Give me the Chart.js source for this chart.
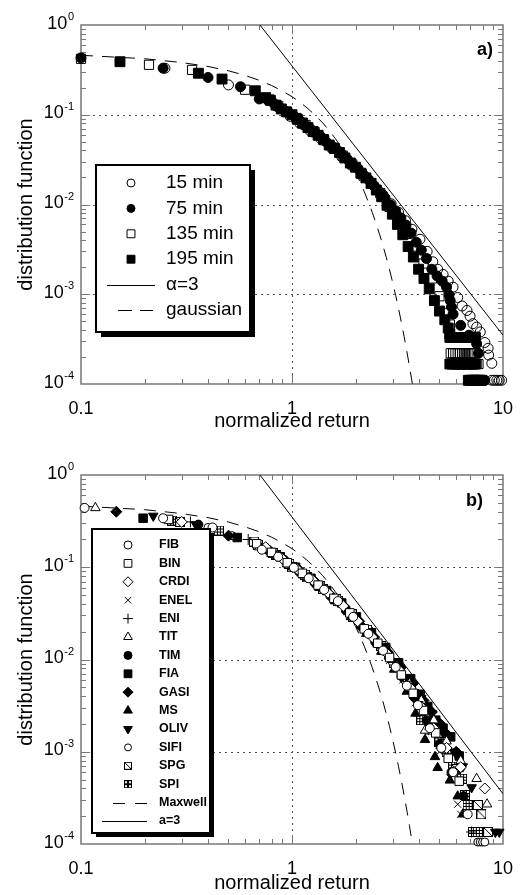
<!DOCTYPE html>
<html><head><meta charset="utf-8">
<script src="https://cdn.jsdelivr.net/npm/chart.js@4/dist/chart.umd.min.js"></script>
<style>
html,body{margin:0;padding:0;background:#fff;width:526px;height:895px;overflow:hidden}
canvas{position:absolute;left:0}
#ca{top:0}
#cb{top:447px}
</style></head><body>
<canvas id="ca" width="526" height="447"></canvas>
<canvas id="cb" width="526" height="448"></canvas>
<script>
const FF = '"Liberation Sans", Arial, Helvetica, sans-serif';

// ---------- tick labels ----------
const xTickLabels = ['0.1', '1', '10'];
const yTickExponents = ['0', '-1', '-2', '-3', '-4'];

// ---------- reference curves ----------
const alphaLine = [[0.705, 1], [10, 0.00035]];
const gaussCurve = [[0.1,0.46],[0.2,0.421],[0.3,0.382],[0.4,0.345],[0.5,0.309],[0.6,0.274],[0.7,0.242],[0.8,0.212],[0.9,0.184],[1.0,0.159],[1.1,0.136],[1.2,0.115],[1.3,0.0968],[1.4,0.0808],[1.5,0.0668],[1.6,0.0548],[1.7,0.0446],[1.8,0.0359],[1.9,0.0287],[2.0,0.0228],[2.1,0.0179],[2.2,0.0139],[2.3,0.0107],[2.4,0.0082],[2.5,0.0062],[2.6,0.00466],[2.7,0.00347],[2.8,0.00256],[2.9,0.00187],[3.0,0.00135],[3.1,0.00097],[3.2,0.000687],[3.3,0.000483],[3.4,0.000337],[3.5,0.000233],[3.6,0.000159],[3.72,0.0001]];

// ---------- panel a ----------
const a15min = [[0.25,0.33],[0.5,0.215],[0.77,0.145],[0.87,0.118],[0.98,0.096],[1.09,0.08],[1.22,0.066],[1.37,0.054],[1.53,0.043],[1.72,0.034],[1.93,0.027],[2.17,0.021],[2.43,0.0163],[2.7,0.0128],[2.95,0.0102],[3.2,0.0082],[3.45,0.0066],[3.7,0.0053],[4.04,0.0041],[4.37,0.003],[4.65,0.0023],[4.9,0.0019],[5.2,0.00166],[5.5,0.0014],[5.8,0.0012],[6.1,0.00092],[6.4,0.00074],[6.75,0.00066],[6.98,0.00057],[7.2,0.00047],[7.5,0.00043],[7.8,0.00038],[8.2,0.00029],[8.5,0.00025],[8.55,0.00021],[8.85,0.00017],[8.85,0.00011],[9.1,0.00011],[9.35,0.00011],[9.6,0.00011],[9.85,0.00011]];
const a75min = [[0.1,0.43],[0.245,0.33],[0.4,0.26],[0.57,0.205],[0.7,0.15],[0.77,0.148],[0.82,0.134],[0.87,0.122],[0.92,0.112],[0.97,0.104],[1.03,0.095],[1.09,0.086],[1.15,0.078],[1.22,0.07],[1.29,0.063],[1.37,0.057],[1.45,0.05],[1.54,0.045],[1.63,0.041],[1.73,0.036],[1.83,0.032],[1.94,0.028],[2.06,0.025],[2.18,0.0215],[2.31,0.0188],[2.45,0.0162],[2.6,0.0138],[2.76,0.0118],[2.93,0.0099],[3.1,0.0085],[3.28,0.0071],[3.47,0.0059],[3.67,0.0048],[3.88,0.0038],[4.1,0.0031],[4.34,0.0025],[4.6,0.0019],[4.87,0.0016],[5.15,0.0014],[5.4,0.0012],[5.55,0.00098],[5.62,0.00085],[5.7,0.00072],[5.8,0.0006],[6.3,0.00045],[6.9,0.00035],[7.5,0.00028],[7.65,0.00022],[8.0,0.00011],[8.2,0.00011]];
const a135min = [[0.1,0.42],[0.21,0.36],[0.336,0.316],[0.6,0.19],[0.78,0.148],[0.86,0.125],[0.95,0.107],[1.05,0.092],[1.16,0.077],[1.28,0.064],[1.42,0.052],[1.57,0.043],[1.74,0.035],[1.93,0.028],[2.14,0.022],[2.37,0.0173],[2.62,0.0134],[2.9,0.0094],[3.2,0.0068],[3.5,0.0047],[3.8,0.0034],[4.2,0.0022],[4.6,0.0015],[5.0,0.00095],[5.4,0.00062],[5.6,0.00046],[5.65,0.00022],[5.8,0.00022],[5.95,0.00022],[6.1,0.00022],[6.25,0.00022],[6.4,0.00022],[6.55,0.00022],[6.7,0.00022],[6.85,0.00022],[7.0,0.00022],[7.15,0.00022],[7.3,0.00022],[7.5,0.000167],[7.65,0.000167]];
const a195min = [[0.153,0.39],[0.36,0.29],[0.466,0.25],[0.67,0.185],[0.75,0.155],[0.79,0.145],[0.84,0.128],[0.89,0.116],[0.94,0.108],[1.0,0.1],[1.06,0.089],[1.12,0.081],[1.19,0.072],[1.26,0.065],[1.33,0.059],[1.41,0.053],[1.5,0.046],[1.59,0.042],[1.68,0.038],[1.78,0.033],[1.89,0.029],[2.0,0.026],[2.12,0.0223],[2.24,0.0198],[2.37,0.0172],[2.51,0.0145],[2.66,0.0122],[2.82,0.0098],[2.99,0.0078],[3.16,0.006],[3.35,0.0046],[3.55,0.0034],[3.76,0.0026],[3.98,0.0019],[4.22,0.0015],[4.47,0.00115],[4.73,0.00085],[5.0,0.00065],[5.3,0.00052],[5.5,0.00042],[5.6,0.00036],[5.6,0.00033],[5.75,0.00033],[5.9,0.00033],[6.05,0.00033],[6.2,0.00033],[6.35,0.00033],[6.5,0.00033],[6.65,0.00033],[6.8,0.00033],[6.95,0.00033],[7.1,0.00033],[7.25,0.00033],[7.4,0.00033],[5.6,0.000167],[5.75,0.000167],[5.9,0.000167],[6.05,0.000167],[6.2,0.000167],[6.35,0.000167],[6.5,0.000167],[6.65,0.000167],[6.8,0.000167],[6.95,0.000167],[7.1,0.000167],[7.25,0.000167],[7.4,0.000167],[6.85,0.00011],[7.0,0.00011],[7.15,0.00011],[7.3,0.00011],[7.45,0.00011],[7.6,0.00011],[7.75,0.00011],[7.9,0.00011]];
const legendA = ['15 min', '75 min', '135 min', '195 min', 'α=3', 'gaussian'];

// ---------- panel b ----------
const bFIB = [[0.104,0.44],[0.245,0.34],[0.42,0.27],[0.72,0.155],[0.86,0.13],[1.02,0.099],[1.2,0.076],[1.42,0.057],[1.65,0.043],[1.95,0.029],[2.3,0.019],[2.7,0.0125],[3.1,0.0083],[3.5,0.0052],[3.95,0.0032],[4.5,0.0018],[5.1,0.0011],[5.8,0.0006],[6.8,0.00021]];
const bBIN = [[0.26,0.33],[0.68,0.18],[0.8,0.145],[0.95,0.112],[1.12,0.086],[1.33,0.064],[1.58,0.046],[1.88,0.032],[2.2,0.0215],[2.55,0.015],[2.9,0.0105],[3.3,0.0068],[3.75,0.0043],[4.2,0.0028],[4.8,0.0016],[5.5,0.00085],[6.2,0.00048]];
const bCRDI = [[0.3,0.31],[0.75,0.165],[0.9,0.124],[1.06,0.095],[1.25,0.073],[1.48,0.053],[1.75,0.038],[2.05,0.026],[2.4,0.0175],[2.8,0.0118],[3.2,0.0078],[3.65,0.0049],[4.15,0.003],[4.7,0.0018],[5.4,0.0011],[6.3,0.00068],[8.2,0.0004]];
const bENEL = [[0.78,0.15],[0.93,0.115],[1.1,0.087],[1.3,0.065],[1.55,0.047],[1.83,0.033],[2.15,0.022],[2.5,0.015],[2.9,0.0098],[3.35,0.006],[3.85,0.0034],[4.4,0.0019],[5.0,0.001],[5.6,0.00052],[6.1,0.00027],[6.3,0.00021]];
const bENI = [[0.33,0.31],[0.62,0.2],[0.82,0.14],[0.98,0.106],[1.16,0.081],[1.37,0.061],[1.62,0.044],[1.92,0.03],[2.25,0.02],[2.62,0.0135],[3.0,0.0093],[3.45,0.0058],[3.95,0.0035],[4.5,0.002],[5.2,0.0011],[6.0,0.0006],[7.1,0.000135]];
const bTIT = [[0.117,0.44],[0.7,0.165],[0.85,0.133],[1.01,0.1],[1.19,0.077],[1.41,0.058],[1.68,0.041],[1.98,0.028],[2.32,0.019],[2.72,0.0125],[3.15,0.0085],[3.6,0.0055],[4.1,0.0036],[4.27,0.0017],[4.7,0.0022],[5.4,0.0013],[6.3,0.0008],[7.5,0.00051],[8.4,0.00027]];
const bTIM = [[0.36,0.29],[0.77,0.155],[0.92,0.12],[1.08,0.09],[1.28,0.068],[1.52,0.049],[1.8,0.034],[2.12,0.023],[2.48,0.0155],[2.88,0.0105],[3.3,0.0066],[3.8,0.0039],[4.35,0.0022],[5.0,0.0012],[5.7,0.0006],[6.5,0.00033]];
const bFIA = [[0.197,0.34],[0.55,0.21],[0.74,0.16],[0.88,0.13],[1.04,0.1],[1.23,0.076],[1.46,0.056],[1.72,0.041],[2.02,0.029],[2.38,0.0195],[2.78,0.0135],[3.2,0.0092],[3.65,0.0062],[4.05,0.0042],[4.4,0.0031],[4.8,0.0022],[5.2,0.0018],[5.65,0.00145],[6.2,0.0009]];
const bGASI = [[0.147,0.4],[0.5,0.22],[0.76,0.158],[0.9,0.125],[1.07,0.096],[1.27,0.072],[1.5,0.052],[1.78,0.037],[2.08,0.026],[2.45,0.0175],[2.85,0.012],[3.28,0.0082],[3.75,0.0055],[4.2,0.0036],[4.6,0.0027],[5.05,0.002],[5.5,0.0015],[6.0,0.001]];
const bMS = [[0.8,0.14],[0.95,0.108],[1.13,0.082],[1.35,0.06],[1.6,0.043],[1.9,0.029],[2.25,0.019],[2.65,0.0122],[3.05,0.0078],[3.5,0.0045],[3.85,0.0026],[4.27,0.00135],[4.76,0.00088],[4.9,0.00067],[5.6,0.00049],[6.1,0.00033],[6.45,0.00021]];
const bOLIV = [[0.22,0.36],[0.35,0.29],[0.71,0.16],[0.83,0.138],[0.99,0.104],[1.18,0.079],[1.4,0.059],[1.66,0.043],[1.96,0.03],[2.3,0.02],[2.7,0.0135],[3.12,0.009],[3.6,0.0058],[4.1,0.0038],[4.6,0.0026],[5.2,0.0016],[5.9,0.001],[6.45,0.00069],[7.1,0.00041],[9.2,0.000135],[9.6,0.000135]];
const bSIFI = [[0.4,0.27],[0.52,0.22],[0.79,0.145],[0.94,0.113],[1.12,0.085],[1.33,0.064],[1.58,0.046],[1.87,0.032],[2.2,0.0215],[2.57,0.0145],[2.98,0.0095],[3.42,0.006],[3.9,0.0036],[4.45,0.0021],[5.1,0.0012],[5.9,0.00062],[7.6,0.000105],[7.8,0.000105],[8.0,0.000105],[8.2,0.000105]];
const bSPG = [[0.295,0.31],[0.66,0.19],[0.81,0.143],[0.97,0.109],[1.15,0.083],[1.36,0.062],[1.62,0.045],[1.92,0.031],[2.27,0.021],[2.65,0.014],[3.05,0.0092],[3.5,0.0058],[4.0,0.0035],[4.55,0.0021],[5.2,0.0012],[6.0,0.00065],[7.6,0.000265],[7.9,0.00021],[8.5,0.000135]];
const bSPI = [[0.27,0.32],[0.45,0.25],[0.69,0.175],[0.84,0.136],[1.0,0.1],[1.18,0.078],[1.4,0.058],[1.65,0.043],[1.95,0.029],[2.3,0.02],[2.7,0.0128],[3.1,0.0088],[3.55,0.0058],[3.8,0.0042],[4.1,0.0034],[4.1,0.0022],[4.5,0.0017],[5.0,0.00126],[5.4,0.001],[5.8,0.00069],[6.4,0.00051],[6.6,0.00034],[6.8,0.000265],[7.2,0.000135],[7.6,0.000135]];
const legendB = ['FIB','BIN','CRDI','ENEL','ENI','TIT','TIM','FIA','GASI','MS','OLIV','SIFI','SPG','SPI','Maxwell','a=3'];

// ---------- marker icons ----------
function icon(kind, size) {
  const c = document.createElement('canvas');
  c.width = size; c.height = size;
  const g = c.getContext('2d');
  g.fillStyle = '#fff'; g.fillRect(0, 0, size, size);
  g.strokeStyle = '#000'; g.lineWidth = 1;
  g.strokeRect(0.5, 0.5, size - 1, size - 1);
  g.beginPath();
  if (kind === 'diag') { g.moveTo(0.5, 0.5); g.lineTo(size - 0.5, size - 0.5); }
  else {
    const a = Math.round(size / 3) + 0.5, b = Math.round(2 * size / 3) - 0.5;
    g.moveTo(a, 0); g.lineTo(a, size); g.moveTo(b, 0); g.lineTo(b, size);
    g.moveTo(0, a); g.lineTo(size, a); g.moveTo(0, b); g.lineTo(size, b);
  }
  g.stroke();
  return c;
}
const spgIcon = icon('diag', 10), spiIcon = icon('grid', 10);
const spgIconL = icon('diag', 8), spiIconL = icon('grid', 8);

const T = 'rgba(0,0,0,0)';
function mk(style, r, fill, rot) { return {style, r, fill, stroke: '#000', rot: rot || 0}; }

const markA = [mk('circle',5,T), mk('circle',5,'#000'), mk('rect',6.5,T), mk('rect',7,'#000')];
const markAL = [mk('circle',4,T), mk('circle',4,'#000'), mk('rect',5.6,T), mk('rect',5.6,'#000')];
const seriesA = [a15min, a75min, a135min, a195min];
const orderA = [5, 3, 4, 2];

const markB = [mk('circle',4.5,'#fff'), mk('rect',6,'#fff'), mk('rectRot',5.5,'#fff'), mk('crossRot',5,T),
  mk('cross',5.5,T), mk('triangle',5.5,'#fff'), mk('circle',4.5,'#000'), mk('rect',6,'#000'),
  mk('rectRot',5.5,'#000'), mk('triangle',5.5,'#000'), mk('triangle',5.5,'#000',180), mk('circle',4,'#fff'),
  mk(spgIcon,5,'#fff'), mk(spiIcon,5,'#fff')];
const markBL = [mk('circle',4,'#fff'), mk('rect',5.5,'#fff'), mk('rectRot',5,'#fff'), mk('crossRot',4.5,T),
  mk('cross',5,T), mk('triangle',5,'#fff'), mk('circle',4,'#000'), mk('rect',5.5,'#000'),
  mk('rectRot',5,'#000'), mk('triangle',5,'#000'), mk('triangle',5,'#000',180), mk('circle',3.5,'#fff'),
  mk(spgIconL,5,'#fff'), mk(spiIconL,5,'#fff')];
const seriesB = [bFIB,bBIN,bCRDI,bENEL,bENI,bTIT,bTIM,bFIA,bGASI,bMS,bOLIV,bSIFI,bSPG,bSPI];

function pts(arr) { return arr.map(([x, y]) => ({x, y})); }

function markerDataset(label, arr, m, order) {
  return {label, data: pts(arr), showLine: false, order, clip: false,
    pointStyle: m.style, pointRadius: m.r, pointHoverRadius: m.r, pointRotation: m.rot,
    pointBackgroundColor: m.fill, pointBorderColor: m.stroke, pointBorderWidth: 1};
}
function lineDataset(label, arr, dash) {
  return {label, data: pts(arr), showLine: true, order: 20, pointRadius: 0, pointHoverRadius: 0,
    borderColor: '#000', borderWidth: 1, borderDash: dash, fill: false, tension: 0};
}

function drawMarker(ctx, m, x, y) {
  ctx.save();
  ctx.fillStyle = m.fill; ctx.strokeStyle = m.stroke; ctx.lineWidth = 1;
  Chart.helpers.drawPoint(ctx, {pointStyle: m.style, radius: m.r, rotation: m.rot, borderWidth: 1}, x, y);
  ctx.restore();
}

// ---------- decoration plugin: grid, inward ticks, frame, y labels, legend ----------
const deco = {
  id: 'deco',
  beforeDatasetsDraw(chart, args, o) {
    const {ctx, chartArea: A, scales: {x, y}} = chart;
    ctx.save();
    ctx.strokeStyle = '#555'; ctx.lineWidth = 1; ctx.setLineDash([2, 4]);
    ctx.beginPath();
    [1].forEach(v => { const p = Math.round(x.getPixelForValue(v)) + 0.5; ctx.moveTo(p, A.top); ctx.lineTo(p, A.bottom); });
    [0.1, 0.01, 0.001].forEach(v => { const p = Math.round(y.getPixelForValue(v)) + 0.5; ctx.moveTo(A.left, p); ctx.lineTo(A.right, p); });
    ctx.stroke();
    ctx.setLineDash([]);
    ctx.strokeStyle = '#777'; ctx.lineWidth = 1;
    ctx.beginPath();
    for (let e = -1; e <= 0; e++) for (let k = 1; k <= 9; k++) {
      const v = k * Math.pow(10, e);
      if (v <= 0.1 + 1e-9) continue;
      const p = Math.round(x.getPixelForValue(v)) + 0.5, L = k === 1 ? 9 : 5;
      ctx.moveTo(p, A.bottom); ctx.lineTo(p, A.bottom - L);
      ctx.moveTo(p, A.top); ctx.lineTo(p, A.top + L);
    }
    for (let e = -4; e <= -1; e++) for (let k = 1; k <= 9; k++) {
      const v = k * Math.pow(10, e);
      if (v <= 1e-4 + 1e-12) continue;
      const p = Math.round(y.getPixelForValue(v)) + 0.5, L = k === 1 ? 9 : 5;
      ctx.moveTo(A.left, p); ctx.lineTo(A.left + L, p);
      ctx.moveTo(A.right, p); ctx.lineTo(A.right - L, p);
    }
    ctx.stroke();
    ctx.lineWidth = 1.5;
    ctx.strokeRect(A.left, A.top, A.right - A.left, A.bottom - A.top);
    ctx.restore();
  },
  afterDatasetsDraw(chart, args, o) {
    const {ctx, scales: {y}} = chart;
    ctx.save();
    ctx.fillStyle = '#000'; ctx.textAlign = 'left'; ctx.textBaseline = 'alphabetic';
    yTickExponents.forEach(ex => {
      const py = y.getPixelForValue(Math.pow(10, Number(ex)));
      ctx.font = '18px ' + FF; const bw = ctx.measureText('10').width;
      ctx.font = '11px ' + FF; const ew = ctx.measureText(ex).width;
      const right = 74;
      ctx.font = '18px ' + FF; ctx.fillText('10', right - ew - bw - 0.5, py + 3.5);
      ctx.font = '11px ' + FF; ctx.fillText(ex, right - ew, py - 5);
    });
    ctx.font = 'bold 18px ' + FF; ctx.textAlign = 'right';
    ctx.fillText(o.panel.text, o.panel.x, o.panel.y);
    const L = o.legend;
    ctx.fillStyle = '#000';
    ctx.fillRect(L.x0 + L.sh, L.y0 + L.sh, L.x1 - L.x0, L.y1 - L.y0);
    ctx.fillStyle = '#fff';
    ctx.fillRect(L.x0, L.y0, L.x1 - L.x0, L.y1 - L.y0);
    ctx.strokeStyle = '#000'; ctx.lineWidth = 2;
    ctx.strokeRect(L.x0, L.y0, L.x1 - L.x0, L.y1 - L.y0);
    ctx.font = L.font; ctx.textAlign = 'left'; ctx.textBaseline = 'middle';
    L.labels.forEach((lab, i) => {
      const yy = L.iy0 + L.dy * i;
      if (i < L.marks.length) drawMarker(ctx, L.marks[i], L.mx, yy);
      else {
        const seg = L.lines[i - L.marks.length];
        ctx.strokeStyle = '#000'; ctx.lineWidth = 1; ctx.beginPath();
        for (let s = 0; s < seg.length; s += 2) { ctx.moveTo(seg[s], Math.round(yy) + 0.5); ctx.lineTo(seg[s + 1], Math.round(yy) + 0.5); }
        ctx.stroke();
      }
      ctx.fillStyle = '#000';
      ctx.fillText(lab, L.tx, yy);
    });
    ctx.restore();
  }
};

function makeChart(id, cfg) {
  return new Chart(document.getElementById(id), {
    type: 'scatter',
    data: {datasets: cfg.datasets},
    plugins: [deco],
    options: {
      responsive: false, animation: false, events: [],
      layout: {padding: {top: cfg.top, right: 23, left: 0, bottom: 0}},
      plugins: {legend: {display: false}, tooltip: {enabled: false}, deco: cfg.deco},
      scales: {
        x: {type: 'logarithmic', min: 0.1, max: 10, position: 'bottom',
          grid: {display: false}, border: {display: false},
          ticks: {autoSkip: false, maxRotation: 0, minRotation: 0, padding: cfg.tickPad, color: '#000',
            font: {family: FF, size: 18},
            callback: (v) => { const l = Math.log10(v), r = Math.round(l); return Math.abs(l - r) < 1e-6 ? xTickLabels[r + 1] : ''; }},
          title: {display: true, text: 'normalized return', color: '#000', font: {family: FF, size: 20},
            padding: {top: 0, bottom: cfg.xTitlePad}},
          afterFit: (s) => { s.height = cfg.xh; }},
        y: {type: 'logarithmic', min: 0.0001, max: 1, position: 'left',
          grid: {display: false}, border: {display: false}, ticks: {display: false},
          title: {display: true, text: 'distribution function', color: '#000', font: {family: FF, size: 20},
            padding: {top: 14, bottom: 0}},
          afterFit: (s) => { s.width = 81; }}
      }
    }
  });
}

// panel a
const dsA = seriesA.map((s, i) => markerDataset(legendA[i], s, markA[i], orderA[i]));
dsA.push(lineDataset('α=3', alphaLine, []));
dsA.push(lineDataset('gaussian', gaussCurve, [12, 9]));
makeChart('ca', {
  datasets: dsA, top: 25, xh: 63, tickPad: 6, xTitlePad: 14,
  deco: {
    panel: {text: 'a)', x: 493, y: 55},
    legend: {x0: 96, y0: 165, x1: 250, y1: 332, sh: 5, font: '19px ' + FF,
      labels: legendA, marks: markAL, mx: 131, tx: 166, iy0: 183, dy: 25.4,
      lines: [[107, 155], [118, 132, 140, 153]]}
  }
});

// panel b
const dsB = seriesB.map((s, i) => markerDataset(legendB[i], s, markB[i], 2 + i));
dsB.push(lineDataset('Maxwell', gaussCurve, [12, 9]));
dsB.push(lineDataset('a=3', alphaLine, []));
makeChart('cb', {
  datasets: dsB, top: 28, xh: 51, tickPad: 6, xTitlePad: 0,
  deco: {
    panel: {text: 'b)', x: 483, y: 59},
    legend: {x0: 92, y0: 82, x1: 210, y1: 386, sh: 4, font: 'bold 12.5px ' + FF,
      labels: legendB, marks: markBL, mx: 128, tx: 159, iy0: 98, dy: 18.4,
      lines: [[113, 125, 135, 147], [102, 147]]}
  }
});
</script>
</body></html>
